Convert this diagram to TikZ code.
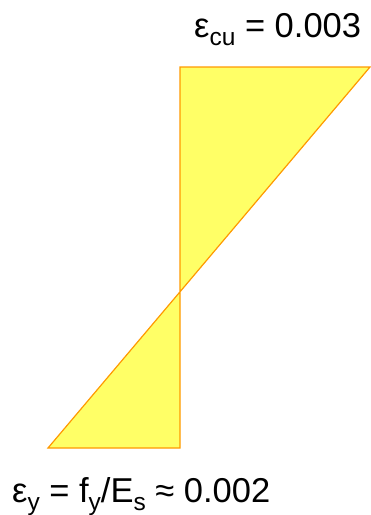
\documentclass[tikz,border=0pt]{standalone}
\usepackage{fontspec}
\setmainfont{Liberation Sans}
\definecolor{fillyel}{RGB}{255,255,102}
\definecolor{edgeor}{RGB}{255,153,0}
\newcommand{\sbs}[1]{\raisebox{-8.5pt}{\fontsize{24.5}{25}\selectfont #1}}
\begin{document}
\begin{tikzpicture}[x=1pt,y=-1pt,
  lbl/.style={inner sep=0pt,font=\fontsize{34.5}{36}\selectfont}]
\useasboundingbox (0,0) rectangle (371,515);
\coordinate (tl) at (180,67);
\coordinate (tr) at (370,67);
\coordinate (bl) at (48,448);
\coordinate (br) at (180,448);
\coordinate (mid) at (180,291.8);
\fill[fillyel] (tl) -- (tr) -- (mid) -- cycle;
\fill[fillyel] (mid) -- (bl) -- (br) -- cycle;
\draw[edgeor,line width=1.2pt] (tl) -- (tr) -- (bl) -- (br) -- cycle;
\node[lbl,anchor=base west] (top) at (194,37) {ε\sbs{cu} = 0.003};
\node[lbl,anchor=base west] (bot) at (12,502) {ε\sbs{y} = f\sbs{y}/E\sbs{s} ≈ 0.002};
\end{tikzpicture}
\end{document}
